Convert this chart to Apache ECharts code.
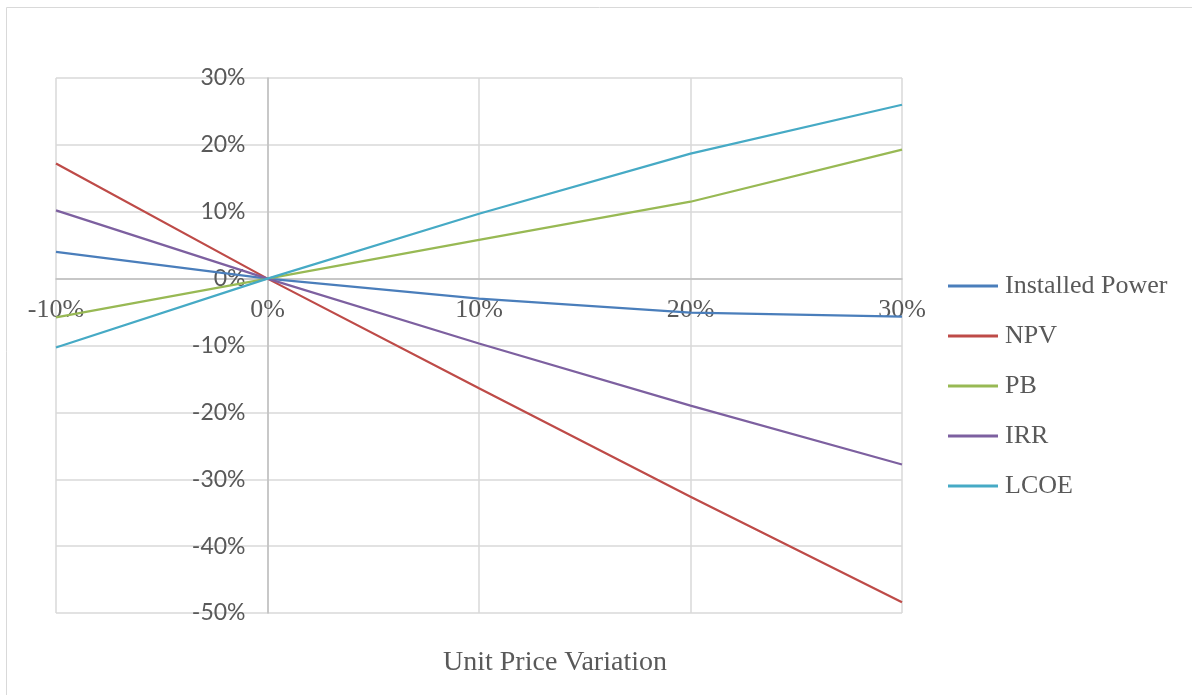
<!DOCTYPE html>
<html>
<head>
<meta charset="utf-8">
<script src="https://cdn.jsdelivr.net/npm/echarts@6/dist/echarts.min.js"></script>
<style>
  html, body { margin: 0; padding: 0; background: #fff; }
  #chart { width: 1192px; height: 695px; }
</style>
</head>
<body>
<div id="chart"></div>
<script>
// Sensitivity of project indicators to unit price variation (%)
const xValues = [-10, 0, 10, 20, 30];
const installedPower = [4.0, 0, -3.0, -5.1, -5.7];
const npv = [17.2, 0, -16.4, -32.6, -48.4];
const pb = [-5.8, 0, 5.8, 11.5, 19.3];
const irr = [10.2, 0, -9.7, -19.0, -27.8];
const lcoe = [-10.3, 0, 9.7, 18.7, 26.0];

const seriesNames = ['Installed Power', 'NPV', 'PB', 'IRR', 'LCOE'];
const seriesData = [installedPower, npv, pb, irr, lcoe];
const colors = ['#4a7ebb', '#be4b48', '#98b954', '#7d60a0', '#46aac5'];

const serif = 'Liberation Serif';
const sans = 'Lato';
const gridBox = { left: 56, right: 290, top: 78, bottom: 82 };

const chart = echarts.init(document.getElementById('chart'));
chart.setOption({
  animation: false,
  color: colors,
  grid: Object.assign({ outerBoundsMode: 'none', containLabel: false }, gridBox),
  xAxis: {
    type: 'value',
    min: -10, max: 30, interval: 10,
    axisLine: { onZero: false, lineStyle: { color: '#bfbfbf', width: 1.5 } },
    axisTick: { show: false },
    splitLine: { show: true, lineStyle: { color: '#d9d9d9', width: 1.5 } },
    axisLabel: {
      formatter: '{value}%', color: '#595959', fontFamily: serif, fontSize: 26, margin: 19,
      showMinLabel: true, showMaxLabel: true, hideOverlap: false
    }
  },
  yAxis: {
    type: 'value',
    min: -50, max: 30, interval: 10,
    axisLine: { show: true, onZero: false, lineStyle: { color: '#bfbfbf', width: 1.5 } },
    axisTick: { show: false },
    splitLine: { show: true, lineStyle: { color: '#d9d9d9', width: 1.5 } },
    axisLabel: {
      formatter: '{value}%', color: '#595959', fontFamily: sans, fontSize: 23, margin: 22,
      showMinLabel: true, showMaxLabel: true, hideOverlap: false
    }
  },
  legend: {
    orient: 'vertical',
    left: 943, top: 268,
    itemWidth: 50, itemHeight: 3,
    itemGap: 24,
    icon: 'rect',
    textStyle: { color: '#595959', fontFamily: serif, fontSize: 26, lineHeight: 26, padding: [0, 0, 0, 2] },
    data: seriesNames
  },
  graphic: [
    {
      type: 'rect', left: 4, top: 5, silent: true,
      shape: { width: 1186, height: 690 },
      style: { fill: 'none', stroke: '#d9d9d9', lineWidth: 1 }
    },
    {
      type: 'text', left: 443, top: 649,
      style: { text: 'Unit Price Variation', fill: '#595959', font: '28px "' + serif + '"' }
    }
  ],
  series: seriesNames.map((name, i) => ({
    name: name,
    type: 'line',
    data: xValues.map((x, j) => [x, seriesData[i][j]]),
    showSymbol: false,
    symbol: 'none',
    lineStyle: { width: 2.25 },
    z: 3
  }))
});

// Move both axes (line and labels) so they cross at the origin.
const px0 = chart.convertToPixel({ xAxisIndex: 0 }, 0);
const py0 = chart.convertToPixel({ yAxisIndex: 0 }, 0);
const plotBottom = 695 - gridBox.bottom;
chart.setOption({
  yAxis: { offset: -(px0 - gridBox.left) },
  xAxis: { offset: -(plotBottom - py0) }
});
</script>
</body>
</html>
